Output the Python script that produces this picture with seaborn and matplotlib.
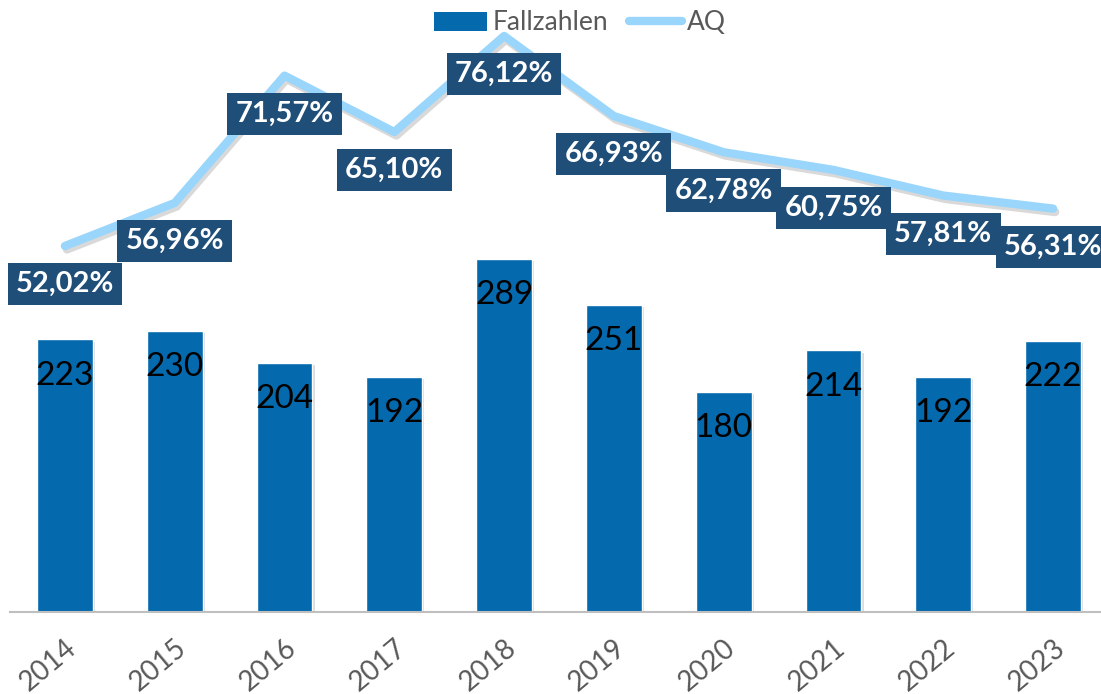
import numpy as np
import pandas as pd
import matplotlib.pyplot as plt
import matplotlib.patheffects as pe
from matplotlib.patches import Patch
from matplotlib.lines import Line2D
import seaborn as sns

# Daten
jahre = ["2014", "2015", "2016", "2017", "2018", "2019", "2020", "2021", "2022", "2023"]
fallzahlen = [223, 230, 204, 192, 289, 251, 180, 214, 192, 222]
aq = [52.02, 56.96, 71.57, 65.10, 76.12, 66.93, 62.78, 60.75, 57.81, 56.31]

# Farben
COLOR_BAR = "#0569AD"
COLOR_LINE = "#9AD6FB"
COLOR_BOX = "#1F4E79"
COLOR_TEXT = "#595959"

sns.set_style("white")
plt.rcParams["font.family"] = ["Lato", "DejaVu Sans"]

df = pd.DataFrame({"Jahr": jahre, "Fallzahlen": fallzahlen, "AQ": aq})
df["pos"] = np.arange(len(df))

fig = plt.figure(figsize=(11.01, 6.94), dpi=100)
ax = fig.add_axes([10 / 1101, 82 / 694, 1091 / 1101, 602 / 694])

sns.barplot(data=df, x="Jahr", y="Fallzahlen", color=COLOR_BAR, width=0.51,
            saturation=1, ax=ax)
for bar in ax.patches:
    bar.set_path_effects([pe.SimplePatchShadow(offset=(1.5, -1.5), alpha=0.15),
                          pe.Normal()])

ax.set_xlim(-0.5, -0.5 + 1091 / 109.8)
ax.set_ylim(0, 492.6)
ax.set_xlabel("")
ax.set_ylabel("")
ax.set_yticks([])
for side in ["left", "right", "top"]:
    ax.spines[side].set_visible(False)
ax.spines["bottom"].set_color("#BFBFBF")
ax.spines["bottom"].set_linewidth(1.5)
ax.tick_params(axis="x", length=0, pad=16, labelsize=20, labelcolor=COLOR_TEXT)
plt.setp(ax.get_xticklabels(), rotation=40, ha="right", rotation_mode="anchor")

# Werte in den Balken
for i, v in enumerate(fallzahlen):
    ax.annotate(str(v), (i, v), xytext=(0, -26), textcoords="offset points",
                ha="center", va="center", fontsize=24, color="black")

# AQ-Linie auf zweiter Achse
ax2 = ax.twinx()
sns.lineplot(data=df, x="pos", y="AQ", color=COLOR_LINE, linewidth=6,
             ax=ax2, legend=False)
ax2.lines[0].set_solid_capstyle("round")
ax2.lines[0].set_path_effects([pe.SimpleLineShadow(offset=(1.5, -2.5), alpha=0.15),
                               pe.Normal()])
ax2.set_ylim(10.02, 79.1)
ax2.set_xlim(ax.get_xlim())
ax2.set_ylabel("")
ax2.set_xlabel("")
ax2.set_yticks([])
for side in ["left", "right", "top", "bottom"]:
    ax2.spines[side].set_visible(False)

for i, v in enumerate(aq):
    txt = f"{v:.2f}".replace(".", ",") + "%"
    ax2.annotate(txt, (i, v), xytext=(0, -27.5), textcoords="offset points",
                 ha="center", va="center", fontsize=21, fontweight="bold",
                 color="white", zorder=10, annotation_clip=False,
                 bbox=dict(boxstyle="square,pad=0.28", fc=COLOR_BOX, ec="none"))

# Legende
handles = [Patch(facecolor=COLOR_BAR, edgecolor="none"),
           Line2D([], [], color=COLOR_LINE, linewidth=6, solid_capstyle="round")]
fig.legend(handles, ["Fallzahlen", "AQ"], loc="center",
           bbox_to_anchor=(580 / 1101, 1 - 23 / 694), ncol=2, frameon=False,
           fontsize=19, labelcolor=COLOR_TEXT, handlelength=2.0,
           handleheight=0.7, handletextpad=0.2, columnspacing=0.8)

fig.savefig("out.png", dpi=100)
